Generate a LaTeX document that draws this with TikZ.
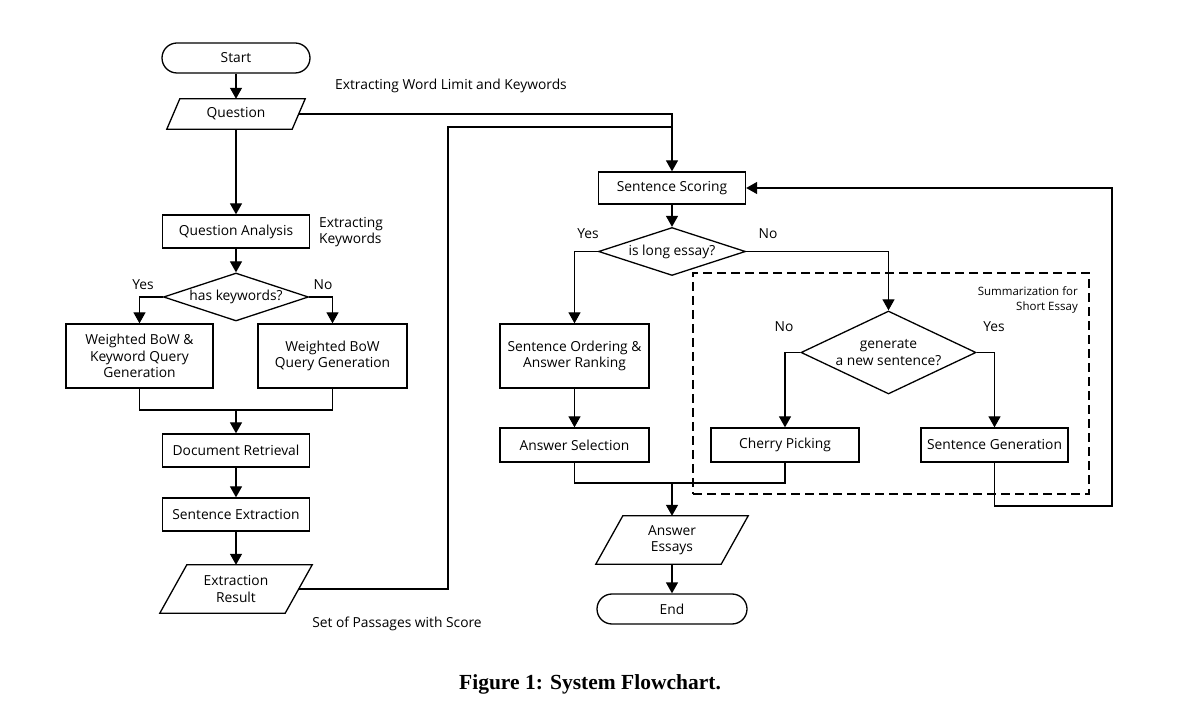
\documentclass[tikz,border=0pt]{standalone}
\usepackage{fontspec}
\setmainfont{Open Sans}
\newfontfamily\capfont{Liberation Serif}
\usetikzlibrary{arrows.meta,shapes.geometric,calc}
\newcommand\paraoutline[2]{\draw[lw] ($(#1.north west)+(#2,0)$) -- ($(#1.north east)+(#2,0)$) -- ($(#1.south east)+(-#2,0)$) -- ($(#1.south west)+(-#2,0)$) -- cycle;}
\begin{document}
\begin{tikzpicture}[x=1pt,y=-1pt,
  font=\fontsize{13.8}{16.5}\selectfont,
  lw/.style={line width=1.3pt},
  proc/.style={draw,lw,rectangle,inner sep=0pt,align=center},
  term/.style={draw,lw,rectangle,rounded corners=15pt,inner sep=0pt,minimum width=148,minimum height=30},
  iobox/.style={inner sep=0pt,align=center,minimum width=125},
  decision/.style={draw,lw,diamond,inner sep=0pt,align=center},
  arr/.style={lw,-{Triangle[length=11pt,width=12pt]}},
  conn/.style={lw},
  lbl/.style={inner sep=0pt}]
\useasboundingbox (0,0) rectangle (1200,708);

% left column
\node[term] (start) at (236,58) {Start};
\node[iobox,minimum height=30] (q) at (236,114) {Question};
\paraoutline{q}{6.5}
\node[proc,minimum width=147,minimum height=33] (qa) at (236,231.5) {Question Analysis};
\node[lbl,anchor=west,align=left] (tkw) at (319,232) {Extracting\\Keywords};
\node[decision,aspect=3,minimum width=145,minimum height=48] (kw) at (236,297) {has keywords?};
\node[lbl] (ykw) at (143,285) {Yes};
\node[lbl] (nkw) at (323,285) {No};
\node[proc,minimum width=147,minimum height=64] (b1) at (139.5,356) {Weighted BoW \&\\Keyword Query\\Generation};
\node[proc,minimum width=149,minimum height=64] (b2) at (332.5,356) {Weighted BoW\\Query Generation};
\coordinate (m1) at (236,410);
\node[proc,minimum width=147,minimum height=33] (dr) at (236,450.5) {Document Retrieval};
\node[proc,minimum width=147,minimum height=33] (se) at (236,514.5) {Sentence Extraction};
\node[iobox,minimum height=48] (er) at (236,589) {Extraction\\Result};
\paraoutline{er}{13.5}
\node[lbl] (tset) at (397,624) {Set of Passages with Score};
\node[lbl] (tword) at (451,86) {Extracting Word Limit and Keywords};

% right column
\node[proc,minimum width=147,minimum height=32] (ss) at (672,188) {Sentence Scoring};
\node[decision,aspect=3.06,minimum width=147,minimum height=48] (ld) at (672,251.5) {is long essay?};
\node[lbl] (yld) at (588,234) {Yes};
\node[lbl] (nld) at (768,234) {No};
\node[proc,minimum width=149,minimum height=64] (so) at (574.5,356) {Sentence Ordering \&\\Answer Ranking};
\node[proc,minimum width=149,minimum height=34] (as) at (574.5,445) {Answer Selection};
\node[draw,lw,dash pattern=on 9pt off 5pt,minimum width=396,minimum height=221,inner sep=0pt] (grp) at (891,383.5) {};
\node[lbl,anchor=east,align=right,font=\fontsize{11.5}{15}\selectfont] (tsum) at (1078,299.5) {Summarization for\\Short Essay};
\node[decision,aspect=2.1,inner xsep=-6pt,minimum width=175,minimum height=83] (gd) at (888.5,352.5) {generate\\a new sentence?};
\node[lbl] (ngd) at (784,327) {No};
\node[lbl] (ygd) at (994,327) {Yes};
\node[proc,minimum width=148,minimum height=34] (cp) at (785,445) {Cherry Picking};
\node[proc,minimum width=147,minimum height=34] (sg) at (994.5,445) {Sentence Generation};
\coordinate (m2) at (672,483);
\coordinate (fb) at (1112,506);
\node[iobox,minimum height=48] (ae) at (672,540) {Answer\\Essays};
\paraoutline{ae}{13.5}
\node[term,minimum width=150] (end) at (672,609) {End};
\coordinate (j1) at (448,127);

% connectors
\draw[arr] (start.south) -- (q.north);
\draw[arr] (q.south) -- (qa.north);
\draw[arr] (qa.south) -- (kw.north);
\draw[arr] (kw.west) -| (b1.north);
\draw[arr] (kw.east) -| (b2.north);
\draw[conn] (b1.south) |- (m1) -| (b2.south);
\draw[arr] (m1) -- (dr.north);
\draw[arr] (dr.south) -- (se.north);
\draw[arr] (se.south) -- (er.north);
\draw[arr] (q.east) -| (ss.north);
\draw[conn] (er.east) -| (j1) -- (ss.north |- j1);
\draw[arr] (ss.south) -- (ld.north);
\draw[arr] (ld.west) -| (so.north);
\draw[arr] (ld.east) -| (gd.north);
\draw[arr] (so.south) -- (as.north);
\draw[arr] (gd.west) -| (cp.north);
\draw[arr] (gd.east) -| (sg.north);
\draw[conn] (as.south) |- (m2) -| (cp.south);
\draw[arr] (m2) -- (ae.north);
\draw[arr] (ae.south) -- (end.north);
\draw[arr] (sg.south) |- (fb) |- (ss.east);

% caption
\node[lbl,font=\capfont\bfseries\fontsize{21.5}{24}\selectfont] (cap) at (590,684) {Figure 1: System Flowchart.};
\end{tikzpicture}
\end{document}
